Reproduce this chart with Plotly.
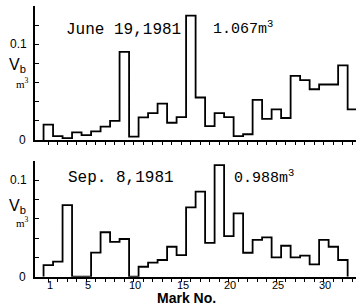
import plotly.graph_objects as go

# ---- data ----
marks_top = list(range(1, 34))
vb_june = [0.016, 0.004, 0.002, 0.008, 0.005, 0.009, 0.014, 0.020, 0.092, 0.0035,
           0.0236, 0.028, 0.038, 0.018, 0.024, 0.130, 0.0444, 0.0146, 0.028, 0.024,
           0.004, 0.006, 0.042, 0.022, 0.032, 0.023, 0.067, 0.0625, 0.053, 0.058,
           0.058, 0.078, 0.032]
marks_bot = list(range(1, 33))
vb_sep = [0.012, 0.0155, 0.074, 0.0, 0.0, 0.025, 0.046, 0.036, 0.039, 0.0,
          0.0103, 0.0145, 0.0173, 0.031, 0.0224, 0.0717, 0.088, 0.035, 0.1155, 0.042,
          0.0655, 0.0248, 0.038, 0.0407, 0.020, 0.032, 0.020, 0.0217, 0.0128, 0.038,
          0.031, 0.0173]
x_tick_vals = list(range(1, 34))
x_tick_labels = {1: "1", 5: "5", 10: "10", 15: "15", 20: "20", 25: "25", 30: "30"}
y_ticks_top = [0, 0.02, 0.04, 0.06, 0.08, 0.10, 0.12, 0.14]
y_ticks_bot = [0, 0.02, 0.04, 0.06, 0.08, 0.10, 0.12]
y_tick_labels = {0: "0", 0.1: "0.1"}
title_top = "June 19,1981"
total_top = "1.067m<sup>3</sup>"
title_bot = "Sep. 8,1981"
total_bot = "0.988m<sup>3</sup>"
x_title = "<b>Mark No.</b>"

W, H = 356, 306


def px(p):
    return p / W


def py(p):
    return 1 - p / H


def step_xy(marks, vals):
    xs = [marks[0] - 0.5] + [m - 0.5 for m in marks] + [marks[-1] + 0.5]
    ys = [0] + list(vals) + [0]
    return xs, ys


fig = go.Figure()
for marks, vals, xa, ya in [(marks_top, vb_june, "x", "y"), (marks_bot, vb_sep, "x2", "y2")]:
    xs, ys = step_xy(marks, vals)
    fig.add_trace(go.Scatter(x=xs, y=ys, mode="lines", line=dict(shape="hv", color="black", width=1.8),
                             xaxis=xa, yaxis=ya, showlegend=False, hoverinfo="skip"))

xr = [-0.4, 33.38]
common_x = dict(range=xr, showline=True, linecolor="black", linewidth=2, showgrid=False, zeroline=False,
                ticks="outside", ticklen=3, tickwidth=1.2, tickcolor="black", tickvals=x_tick_vals,
                tickfont=dict(family="Liberation Sans", size=12, color="black"))
common_y = dict(showline=True, linecolor="black", linewidth=2, showgrid=False, zeroline=False,
                ticks="inside", ticklen=4, tickwidth=1.2, tickcolor="black",
                tickfont=dict(family="Liberation Sans", size=12, color="black"), showticklabels=False)

fig.update_layout(
    width=W, height=H, margin=dict(l=0, r=0, t=0, b=0),
    paper_bgcolor="white", plot_bgcolor="white",
    xaxis=dict(common_x, domain=[px(35), 1], anchor="y", showticklabels=False),
    yaxis=dict(common_y, domain=[py(140), py(6)], range=[0, 0.14], anchor="x", tickvals=y_ticks_top),
    xaxis2=dict(common_x, domain=[px(35), 1], anchor="y2", showticklabels=False),
    yaxis2=dict(common_y, domain=[py(276.7), py(160.7)], range=[0, 0.12], anchor="x2", tickvals=y_ticks_bot),
)

ann = []
mono = dict(family="Liberation Mono", size=16, color="black")
mono2 = dict(family="Liberation Mono", size=15, color="black")
sans = dict(family="Liberation Sans", size=12, color="black")
tick_font = dict(family="Liberation Sans", size=11, color="black")


def A(text, x, y, font, xanchor="left", yanchor="middle"):
    ann.append(dict(text=text, x=px(x), y=py(y), xref="paper", yref="paper", showarrow=False,
                    font=font, xanchor=xanchor, yanchor=yanchor))


# x tick labels on the bottom axis, placed at their data positions
for v, t in x_tick_labels.items():
    ann.append(dict(text=t, x=v + 0.15, xref="x2", y=py(285), yref="paper", showarrow=False,
                    font=tick_font, xanchor="center", yanchor="middle"))

A(title_top, 64, 30, mono)
A(total_top, 211, 28, mono2)
A(title_bot, 66, 178, mono)
A(total_bot, 232, 177, mono2)
# y labels
for base, top01, vby, my in [(140, 44, 65, 83), (276.7, 180, 206, 222)]:
    A(y_tick_labels[0.1], 29, top01, sans, xanchor="right")
    A(y_tick_labels[0], 28, base, sans, xanchor="right")
    A("V<sub>b</sub>", 7, vby, dict(family="Liberation Sans", size=16, color="black"))
    A("m<sup>3</sup>", 14, my, dict(family="Liberation Serif", size=11, color="black"))
A(x_title, 186, 297.5, dict(family="Liberation Sans", size=14, color="black"), xanchor="center")
fig.update_layout(annotations=ann)

fig.write_html("out.html", config={"displayModeBar": False},
               post_script="document.body.style.margin='0';")
